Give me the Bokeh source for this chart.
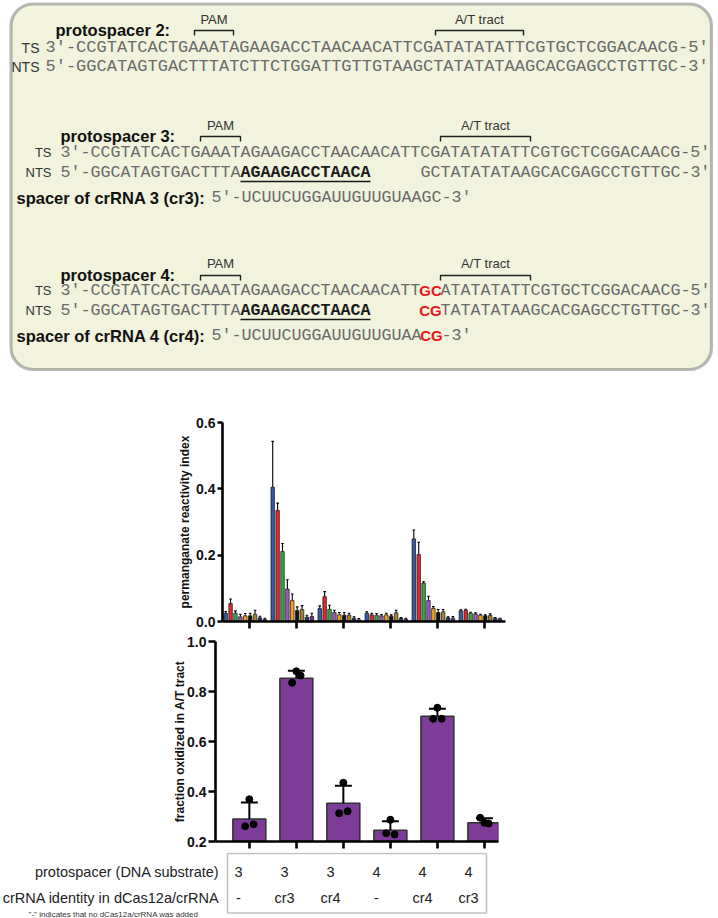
from bokeh.plotting import figure
from bokeh.models import Range1d, FixedTicker, PrintfTickFormatter, BoxAnnotation
from bokeh.core.properties import value
from bokeh.embed import file_html
from bokeh.resources import INLINE

SANS = "Liberation Sans"
MONO = "Liberation Mono"

# ---------------- data ----------------
protospacer_row = ["3", "3", "3", "4", "4", "4"]
crrna_row = ["-", "cr3", "cr4", "-", "cr4", "cr3"]
conditions = list(range(6))

series_colors = ["#3659a8", "#e42a2a", "#36a84b", "#a45cb8", "#f7a21b",
                 "#111111", "#a8812f", "#202f72", "#7b2a88"]

# permanganate reactivity index: mean (per condition) for each of 9 series
s1_mean = [0.025, 0.405, 0.039, 0.025, 0.249, 0.032]
s2_mean = [0.054, 0.335, 0.075, 0.020, 0.202, 0.034]
s3_mean = [0.025, 0.211, 0.037, 0.019, 0.116, 0.025]
s4_mean = [0.014, 0.098, 0.027, 0.017, 0.063, 0.023]
s5_mean = [0.017, 0.063, 0.020, 0.020, 0.039, 0.019]
s6_mean = [0.017, 0.033, 0.019, 0.016, 0.027, 0.017]
s7_mean = [0.022, 0.036, 0.019, 0.026, 0.029, 0.018]
s8_mean = [0.011, 0.013, 0.009, 0.009, 0.011, 0.010]
s9_mean = [0.006, 0.015, 0.005, 0.007, 0.010, 0.008]
# standard deviations
s1_sd = [0.005, 0.138, 0.008, 0.004, 0.027, 0.003]
s2_sd = [0.014, 0.022, 0.015, 0.005, 0.037, 0.003]
s3_sd = [0.007, 0.024, 0.012, 0.005, 0.004, 0.003]
s4_sd = [0.008, 0.028, 0.007, 0.004, 0.013, 0.003]
s5_sd = [0.007, 0.020, 0.007, 0.005, 0.006, 0.003]
s6_sd = [0.008, 0.011, 0.008, 0.004, 0.009, 0.003]
s7_sd = [0.012, 0.012, 0.006, 0.008, 0.007, 0.005]
s8_sd = [0.005, 0.006, 0.005, 0.003, 0.003, 0.002]
s9_sd = [0.004, 0.010, 0.004, 0.003, 0.005, 0.002]

series_means = [s1_mean, s2_mean, s3_mean, s4_mean, s5_mean, s6_mean, s7_mean, s8_mean, s9_mean]
series_sds = [s1_sd, s2_sd, s3_sd, s4_sd, s5_sd, s6_sd, s7_sd, s8_sd, s9_sd]

# fraction oxidized in A/T tract
frac_mean = [0.290, 0.853, 0.353, 0.245, 0.701, 0.275]
frac_sd = [0.066, 0.030, 0.070, 0.036, 0.030, 0.018]
rep_left = [0.261, 0.835, 0.313, 0.233, 0.691, 0.295]
rep_mid = [0.369, 0.881, 0.435, 0.287, 0.735, 0.275]
rep_right = [0.269, 0.864, 0.321, 0.228, 0.691, 0.272]

# sequences
ts_seq = "CCGTATCACTGAAATAGAAGACCTAACAACATTCGATATATATTCGTGCTCGGACAACG"
nts_seq = "GGCATAGTGACTTTATCTTCTGGATTGTTGTAAGCTATATATAAGCACGAGCCTGTTGC"
bubble_seq = "AGAAGACCTAACA"
spacer3_seq = "UCUUCUGGAUUGUUGUAAGC"
spacer4_seq = "UCUUCUGGAUUGUUGUAA"
mut_ts = "GC"
mut_nts = "CG"

W = 718

# ---------------- helpers ----------------
def txt(p, x, y, s, font=SANS, size="13px", color="#333333", style="normal", align="left"):
    p.text(x=[x], y=[y], text=[s], text_font=value(font), text_font_size=value(size),
           text_color=color, text_font_style=style, text_align=align, text_baseline="middle")


def bracket(p, xa, xb, y, drop=5):
    p.line([xa, xa, xb, xb], [y + drop, y, y, y + drop], line_color="#222222", line_width=1.4)


# ---------------- panel A: sequences ----------------
pA = figure(width=W, height=388, x_range=Range1d(0, W), y_range=Range1d(388, 0),
            output_backend="svg", toolbar_location=None, min_border=0,
            x_axis_type=None, y_axis_type=None)
pA.grid.visible = False
pA.outline_line_color = None
box = BoxAnnotation(left=10.5, right=711, top=3.5, bottom=369, fill_color="#f1f3dc", fill_alpha=1,
                    line_color="#1e1e1e", line_width=3.2, border_radius=22, level="underlay")
pA.add_layout(box)

SEQ_COL = "#6a6a6a"
RED = "#e8161b"

blocks = [
    dict(title="protospacer 2:", tx=55, x0=45, cw=10.2, lab_gap=6, lab_size="14px",
         y_pam=19, y_br=30, y_ts=47, y_nts=66, kind=2),
    dict(title="protospacer 3:", tx=60, x0=60, cw=10.0, lab_gap=9, lab_size="13px",
         y_pam=125, y_br=136, y_ts=152, y_nts=172, kind=3),
    dict(title="protospacer 4:", tx=60, x0=60, cw=10.0, lab_gap=9, lab_size="13px",
         y_pam=263, y_br=275, y_ts=290, y_nts=310, kind=4),
]
# bracket spans (in page pixels) measured for protospacer 2; others follow the sequence characters
ps2_pam_span = (194, 233)
ps2_at_span = (435, 523)

for b in blocks:
    x0 = b["x0"]
    CW = b["cw"]
    MONO_SIZE = "%.2fpx" % (CW / 0.6)
    cx = lambda i: x0 + i * CW
    txt(pA, b["tx"], b["y_br"] - 1, b["title"], size="16.5px", color="#111111", style="bold")
    if b["kind"] == 2:
        pam = ps2_pam_span
        att = ps2_at_span
    else:
        pam = (cx(14), cx(18))
        att = (cx(38), cx(47))
    txt(pA, sum(pam) / 2, b["y_pam"], "PAM", size="13px", align="center")
    bracket(pA, pam[0], pam[1], b["y_br"])
    txt(pA, sum(att) / 2, b["y_pam"], "A/T tract", size="13px", align="center")
    bracket(pA, att[0], att[1], b["y_br"])
    txt(pA, x0 - b["lab_gap"], b["y_ts"], "TS", size=b["lab_size"], align="right")
    txt(pA, x0 - b["lab_gap"], b["y_nts"], "NTS", size=b["lab_size"], align="right")
    if b["kind"] == 2:
        txt(pA, x0, b["y_ts"], "3'-" + ts_seq + "-5'", font=MONO, size=MONO_SIZE, color=SEQ_COL)
        txt(pA, x0, b["y_nts"], "5'-" + nts_seq + "-3'", font=MONO, size=MONO_SIZE, color=SEQ_COL)
    else:
        if b["kind"] == 3:
            txt(pA, x0, b["y_ts"], "3'-" + ts_seq + "-5'", font=MONO, size=MONO_SIZE, color=SEQ_COL)
            txt(pA, cx(36), b["y_nts"], nts_seq[33:] + "-3'", font=MONO, size=MONO_SIZE, color=SEQ_COL)
        else:
            txt(pA, x0, b["y_ts"], "3'-" + ts_seq[:33], font=MONO, size=MONO_SIZE, color=SEQ_COL)
            txt(pA, cx(36) + CW, b["y_ts"], mut_ts, size="15px", color=RED, style="bold", align="center")
            txt(pA, cx(38), b["y_ts"], ts_seq[35:] + "-5'", font=MONO, size=MONO_SIZE, color=SEQ_COL)
            txt(pA, cx(36) + CW, b["y_nts"], mut_nts, size="15px", color=RED, style="bold", align="center")
            txt(pA, cx(38), b["y_nts"], nts_seq[35:] + "-3'", font=MONO, size=MONO_SIZE, color=SEQ_COL)
        txt(pA, x0, b["y_nts"], "5'-" + nts_seq[:15], font=MONO, size=MONO_SIZE, color=SEQ_COL)
        txt(pA, cx(18), b["y_nts"], bubble_seq, font=MONO, size=MONO_SIZE, color="#1a1a1a", style="bold")
        pA.line([cx(18), cx(31)], [b["y_nts"] + 9, b["y_nts"] + 9], line_color="#1a1a1a", line_width=1.6)
        ys = b["y_nts"] + 25
        sx = 211
        if b["kind"] == 3:
            txt(pA, 16, ys, "spacer of crRNA 3 (cr3):", size="16.5px", color="#111111", style="bold")
            txt(pA, sx, ys, "5'-" + spacer3_seq + "-3'", font=MONO, size=MONO_SIZE, color=SEQ_COL)
        else:
            txt(pA, 16, ys, "spacer of crRNA 4 (cr4):", size="16.5px", color="#111111", style="bold")
            txt(pA, sx, ys, "5'-" + spacer4_seq, font=MONO, size=MONO_SIZE, color=SEQ_COL)
            txt(pA, sx + 21 * CW + CW, ys, mut_nts, size="15px", color=RED, style="bold", align="center")
            txt(pA, sx + 23 * CW, ys, "-3'", font=MONO, size=MONO_SIZE, color=SEQ_COL)


def style_axes(p, xtick_out, ytick_out):
    for ax in p.axis:
        ax.axis_line_width = 2.6
        ax.axis_line_color = "black"
        ax.major_tick_line_width = 2.6
        ax.major_tick_line_color = "black"
        ax.major_tick_in = 0
        ax.minor_tick_line_color = None
        ax.major_label_text_font = SANS
        ax.major_label_text_font_style = "bold"
        ax.major_label_text_font_size = "14px"
        ax.major_label_text_color = "#111111"
        ax.axis_label_text_font = SANS
        ax.axis_label_text_font_style = "bold"
        ax.axis_label_text_font_size = "12px"
        ax.axis_label_text_color = "#111111"
    p.xaxis.major_tick_out = xtick_out
    p.yaxis.major_tick_out = ytick_out
    p.xaxis.ticker = FixedTicker(ticks=conditions)
    p.xaxis.major_label_text_font_size = "1px"
    p.xaxis.major_label_text_alpha = 0
    p.xaxis.major_label_standoff = 0
    p.yaxis.major_label_standoff = 2
    p.yaxis.formatter = PrintfTickFormatter(format="%.1f")
    p.grid.visible = False
    p.outline_line_color = None


# ---------------- panel B: reactivity ----------------
pB = figure(width=W, height=245, x_range=Range1d(-0.572, 5.445), y_range=Range1d(0, 0.6),
            output_backend="svg", toolbar_location=None,
            min_border_left=222, min_border_right=W - 222 - 283, min_border_top=34, min_border_bottom=12)
pB.yaxis.axis_label = "permanganate reactivity index"
pB.yaxis.axis_label_standoff = 1
pB.yaxis.ticker = FixedTicker(ticks=[0, 0.2, 0.4, 0.6])
style_axes(pB, 7, 5)

STEP = 0.104
BW = 0.074
for k in range(9):
    xs = [c + (k - 4.85) * STEP for c in conditions]
    m = series_means[k]
    sd = series_sds[k]
    tops = [a + b for a, b in zip(m, sd)]
    pB.segment(x0=xs, y0=m, x1=xs, y1=tops, line_color="black", line_width=1.1)
    pB.segment(x0=[x - 0.028 for x in xs], y0=tops, x1=[x + 0.028 for x in xs], y1=tops,
               line_color="black", line_width=1.1)
    pB.vbar(x=xs, width=BW, top=m, bottom=0, fill_color=series_colors[k],
            line_color="#111111", line_width=0.7)

# ---------------- panel C: fraction oxidized ----------------
pC = figure(width=W, height=219, x_range=Range1d(-0.72, 5.30), y_range=Range1d(0.2, 1.0),
            output_backend="svg", toolbar_location=None,
            min_border_left=215, min_border_right=W - 215 - 283, min_border_top=8, min_border_bottom=11)
pC.yaxis.axis_label = "fraction oxidized in A/T tract"
pC.yaxis.axis_label_standoff = -3
pC.yaxis.ticker = FixedTicker(ticks=[0.2, 0.4, 0.6, 0.8, 1.0])
style_axes(pC, 7, 7)

tops = [a + b for a, b in zip(frac_mean, frac_sd)]
pC.vbar(x=conditions, width=0.70, top=frac_mean, bottom=0.2, fill_color="#7d3c98",
        line_color="#333333", line_width=1.6)
pC.segment(x0=conditions, y0=frac_mean, x1=conditions, y1=tops, line_color="black", line_width=2)
pC.segment(x0=[c - 0.18 for c in conditions], y0=tops, x1=[c + 0.18 for c in conditions], y1=tops,
           line_color="black", line_width=2)
JIT = 0.09
pC.scatter(x=[c - JIT for c in conditions], y=rep_left, size=7, color="black")
pC.scatter(x=conditions, y=rep_mid, size=7, color="black")
pC.scatter(x=[c + JIT for c in conditions], y=rep_right, size=7, color="black")

# ---------------- panel D: condition table ----------------
pD = figure(width=W, height=66, x_range=Range1d(0, W), y_range=Range1d(918, 852),
            output_backend="svg", toolbar_location=None, min_border=0,
            x_axis_type=None, y_axis_type=None)
pD.grid.visible = False
pD.outline_line_color = None
pD.add_layout(BoxAnnotation(left=227, right=486, top=853, bottom=912.5, fill_alpha=0,
                            line_color="#333333", line_width=1.5))
txt(pD, 219, 871, "protospacer (DNA substrate)", size="14.5px", color="#222222", align="right")
txt(pD, 219, 897, "crRNA identity in dCas12a/crRNA", size="14.5px", color="#222222", align="right")
col_x = [238 + 46 * i for i in conditions]
pD.text(x=col_x, y=[871] * 6, text=protospacer_row, text_font=value(SANS), text_font_size=value("14.5px"),
        text_color="#222222", text_align="center", text_baseline="middle")
pD.text(x=col_x, y=[897] * 6, text=crrna_row, text_font=value(SANS), text_font_size=value("14.5px"),
        text_color="#222222", text_align="center", text_baseline="middle")
txt(pD, 113, 914, "\"-\" indicates that no dCas12a/crRNA was added", size="8px", color="#333333",
    align="center")

open("out.html", "w").write(file_html([pA, pB, pC, pD], INLINE))
